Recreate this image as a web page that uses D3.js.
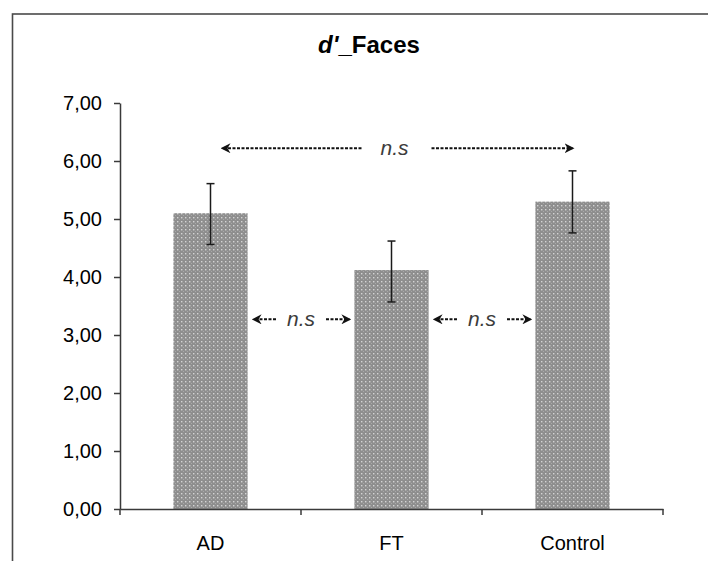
<!DOCTYPE html>
<html>
<head>
<meta charset="utf-8">
<script src="https://cdn.jsdelivr.net/npm/d3@7"></script>
<style>
  body { margin: 0; background: #fff; }
  svg { display: block; font-family: "Liberation Sans", Arial, sans-serif; }
</style>
</head>
<body>
<div id="chart"></div>
<script>
// values
var categories = ["AD", "FT", "Control"];
var means = [5.10, 4.12, 5.30];
var errLow = [4.56, 3.57, 4.76];
var errHigh = [5.61, 4.62, 5.83];
var yTicks = [0, 1, 2, 3, 4, 5, 6, 7];
// non-significant comparisons: [from, to, level]
var comparisons = [["AD", "Control", 6.22], ["AD", "FT", 3.27], ["FT", "Control", 3.27]];

const WIDTH = 708, HEIGHT = 561;
const MARGIN = { TOP: 103, LEFT: 120, RIGHT: 45, BOTTOM: 52 };

var svg = d3.select("#chart").append("svg")
  .attr("width", WIDTH)
  .attr("height", HEIGHT);

// dotted grey fill of the bars
var defs = svg.append("defs");
var pat = defs.append("pattern")
  .attr("id", "dots")
  .attr("width", 4).attr("height", 4)
  .attr("patternUnits", "userSpaceOnUse");
pat.append("rect").attr("width", 4).attr("height", 4).attr("fill", "#8e8e8e");
pat.append("rect").attr("x", 1).attr("y", 1).attr("width", 1.4).attr("height", 1.4).attr("fill", "#d4d4d4");
pat.append("rect").attr("x", 3).attr("y", 3).attr("width", 1).attr("height", 1).attr("fill", "#a8a8a8");

// arrowheads
defs.append("marker")
  .attr("id", "head")
  .attr("viewBox", "0 0 10 10")
  .attr("refX", 8).attr("refY", 5)
  .attr("markerWidth", 5).attr("markerHeight", 5)
  .attr("markerUnits", "strokeWidth")
  .attr("orient", "auto-start-reverse")
  .append("path")
  .attr("d", "M0,0 L10,5 L0,10 L3,5 Z")
  .attr("fill", "#111");

// chart frame (cut off at right / bottom like the source)
svg.append("rect")
  .attr("x", 12.5).attr("y", 14)
  .attr("width", 760).attr("height", 620)
  .attr("fill", "none")
  .attr("stroke", "#4a4a4a")
  .attr("stroke-width", 1.6);

var x0 = MARGIN.LEFT, x1 = WIDTH - MARGIN.RIGHT;
var y0 = HEIGHT - MARGIN.BOTTOM, y1 = MARGIN.TOP;

var xCat = d3.scaleBand().domain(categories).range([x0, x1]).padding(0);
var xBar = d3.scaleBand().domain(categories).range([x0, x1])
  .paddingInner(0.59).paddingOuter(0.295);
var y = d3.scaleLinear().domain([0, 7]).range([y0, y1]);

// title
var title = svg.append("text")
  .attr("x", 369).attr("y", 53)
  .attr("text-anchor", "middle")
  .attr("font-size", 24)
  .attr("font-weight", "bold")
  .attr("fill", "#000");
title.append("tspan").attr("font-style", "italic").text("d'");
title.append("tspan").text("_Faces");

// bars
svg.selectAll("rect.bar")
  .data(categories)
  .enter().append("rect")
  .attr("class", "bar")
  .attr("x", d => xBar(d))
  .attr("width", xBar.bandwidth())
  .attr("y", (d, i) => y(means[i]))
  .attr("height", (d, i) => y(0) - y(means[i]))
  .attr("fill", "url(#dots)");

// error bars
var eb = svg.selectAll("g.err")
  .data(categories)
  .enter().append("g")
  .attr("class", "err")
  .attr("stroke", "#1a1a1a")
  .attr("stroke-width", 1.5);
var cx = d => xBar(d) + xBar.bandwidth() / 2;
eb.append("line")
  .attr("x1", cx).attr("x2", cx)
  .attr("y1", (d, i) => y(errHigh[i]))
  .attr("y2", (d, i) => y(errLow[i]));
eb.append("line")
  .attr("x1", d => cx(d) - 4).attr("x2", d => cx(d) + 4)
  .attr("y1", (d, i) => y(errHigh[i]))
  .attr("y2", (d, i) => y(errHigh[i]));
eb.append("line")
  .attr("x1", d => cx(d) - 4).attr("x2", d => cx(d) + 4)
  .attr("y1", (d, i) => y(errLow[i]))
  .attr("y2", (d, i) => y(errLow[i]));

// y axis
var yAxis = svg.append("g")
  .attr("transform", `translate(${x0},0)`)
  .call(d3.axisLeft(y)
    .tickValues(yTicks)
    .tickSize(6)
    .tickSizeOuter(0)
    .tickPadding(12)
    .tickFormat(d => d.toFixed(2).replace(".", ",")));
yAxis.select(".domain").attr("stroke", "#3a3a3a").attr("stroke-width", 1.5);
yAxis.selectAll(".tick line").attr("stroke", "#3a3a3a").attr("stroke-width", 1.5);
yAxis.selectAll(".tick text")
  .attr("font-size", 20)
  .attr("font-family", "'Liberation Sans', Arial, sans-serif")
  .attr("fill", "#000");

// x axis: labels at band centres, ticks between categories
var xAxis = svg.append("g")
  .attr("transform", `translate(0,${y0})`)
  .call(d3.axisBottom(xCat).tickSize(0).tickSizeOuter(0).tickPadding(27));
xAxis.select(".domain").attr("stroke", "#3a3a3a").attr("stroke-width", 1.5);
xAxis.selectAll(".tick text")
  .attr("font-size", 20)
  .attr("font-family", "'Liberation Sans', Arial, sans-serif")
  .attr("fill", "#000");
var bounds = categories.map(d => xCat(d)).concat([x1]);
svg.selectAll("line.xtick")
  .data(bounds)
  .enter().append("line")
  .attr("class", "xtick")
  .attr("x1", d => d).attr("x2", d => d)
  .attr("y1", y0).attr("y2", y0 + 6)
  .attr("stroke", "#3a3a3a")
  .attr("stroke-width", 1.5);

// n.s annotations
comparisons.forEach(function (c) {
  var a = c[0], b = c[1], lvl = c[2];
  var ia = categories.indexOf(a), ib = categories.indexOf(b);
  var wide = ib - ia > 1;
  var xs, xe, gap;
  if (wide) {
    xs = xBar(a) + 12 + xBar.bandwidth() / 2;
    xe = xBar(b) + xBar.bandwidth() / 2;
    gap = 33;
  } else {
    xs = xBar(a) + xBar.bandwidth() + 6;
    xe = xBar(b) - 5;
    gap = 25;
  }
  var mid = wide ? (xs + xe) / 2 - 3 : xCat(b);
  var yy = y(lvl);
  svg.append("line")
    .attr("x1", mid - gap).attr("x2", xs)
    .attr("y1", yy).attr("y2", yy)
    .attr("stroke", "#111").attr("stroke-width", 2)
    .attr("stroke-dasharray", "3,1.5")
    .attr("marker-end", "url(#head)");
  svg.append("line")
    .attr("x1", mid + gap + (wide ? 4 : 0)).attr("x2", xe)
    .attr("y1", yy).attr("y2", yy)
    .attr("stroke", "#111").attr("stroke-width", 2)
    .attr("stroke-dasharray", "3,1.5")
    .attr("marker-end", "url(#head)");
  svg.append("text")
    .attr("x", mid).attr("y", yy + 7)
    .attr("text-anchor", "middle")
    .attr("font-size", 21)
    .attr("font-style", "italic")
    .attr("fill", "#3c3c3c")
    .text("n.s");
});
</script>
</body>
</html>
